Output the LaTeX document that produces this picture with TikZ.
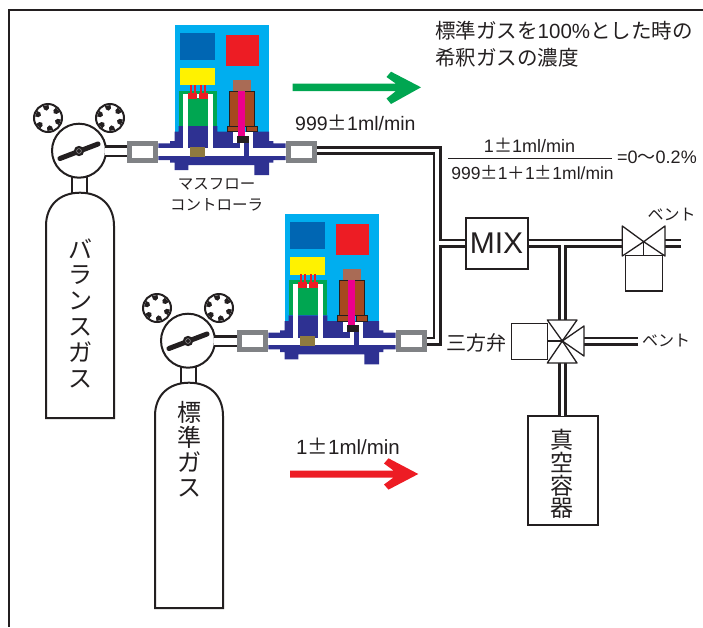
\documentclass[tikz,border=0pt]{standalone}
\usepackage{fontspec}
\setmainfont{Liberation Sans}
\newfontfamily\cjk{Noto Sans CJK JP}
\definecolor{ink}{HTML}{231F20}
\definecolor{skyb}{HTML}{00AEEF}
\definecolor{dblue}{HTML}{0066B3}
\definecolor{rd}{HTML}{ED1C24}
\definecolor{yel}{HTML}{FFF200}
\definecolor{grn}{HTML}{00A651}
\definecolor{navy}{HTML}{2E3192}
\definecolor{olive}{HTML}{8F7A3F}
\definecolor{brn}{HTML}{A6491F}
\definecolor{tanb}{HTML}{A96B55}
\definecolor{pnk}{HTML}{EC008C}
\definecolor{fitc}{HTML}{808285}
\newcommand{\fs}[1]{\fontsize{#1}{#1}\selectfont}
\newcommand{\pmj}{{\cjk ±}}
\tikzset{
  thinline/.style={draw=ink,line width=1.3pt},
  medline/.style={draw=ink,line width=2pt},
  pipeout/.style={draw=ink,line width=9pt,miter limit=10},
  pipein/.style={draw=white,line width=3.2pt,miter limit=10},
  fitting/.style={draw=fitc,line width=5pt,fill=white,minimum width=26pt,minimum height=17pt,inner sep=0pt,rectangle},
  txt/.style={text=ink,inner sep=0pt},
  vert/.style={text=ink,inner sep=0pt,align=center},
}
\newcommand{\mfcunit}[3]{%
\begin{scope}[shift={(#1,#2)}]
\fill[skyb] (174.7,25) rectangle (269,132);
\fill[dblue] (180,32.7) rectangle (215,60);
\fill[rd] (226,35) rectangle (259,65.7);
\fill[yel] (180,68) rectangle (215,85.3);
\fill[grn] (178.7,91) rectangle (217.3,126);
\fill[navy] (178.7,126) -- (217.3,126) -- (217.3,131.7) -- (269,131.7) -- (269,141) -- (273.3,141) -- (273.3,143.3) -- (285.7,143.3) -- (285.7,160) -- (273.3,160) -- (273.3,162.7) -- (269,162.7) -- (269,175) -- (254.3,175) -- (254.3,165) -- (188.3,165) -- (188.3,170) -- (174.7,170) -- (174.7,162.7) -- (170,162.7) -- (170,160) -- (158.3,160) -- (158.3,143.3) -- (170,143.3) -- (170,141) -- (174.7,141) -- (174.7,131.7) -- (178.7,131.7) -- cycle;
\fill[white] (158,148.3) rectangle (244.3,155.7);
\fill[white] (249.3,148.3) rectangle (285.7,155.7);
\fill[white] (183.3,94.3) rectangle (187.7,149);
\fill[white] (208.3,94.3) rectangle (212.7,149);
\fill[white] (183.3,94.3) rectangle (212.7,98.3);
\fill[white] (233.3,132.3) rectangle (253.3,135.7);
\fill[white] (233.3,132.3) rectangle (237.3,142.7);
\fill[white] (249.3,132.3) rectangle (253.3,149);
\fill[white] (240,142) rectangle (244.3,149);
\fill[olive] (190,147) rectangle (205,157);
\foreach \px in {190.3,194.3,200.3,204.3}{\fill[rd] (\px,85) rectangle (\px+1.7,93);}
\fill[rd] (188,92.7) rectangle (197.3,99);
\fill[rd] (199,92.7) rectangle (207.7,99);
\fill[tanb] (233,79.7) rectangle (251,91);
\filldraw[fill=brn,draw=ink,line width=.9pt] (229.3,91) rectangle (254.7,126);
\filldraw[fill=brn,draw=ink,line width=.9pt] (227.3,126) rectangle (238.3,131.7);
\filldraw[fill=brn,draw=ink,line width=.9pt] (246,126) rectangle (257.3,131.7);
\fill[pnk] (238,91) rectangle (245.3,135.7);
\fill[ink] (237.3,135.7) rectangle (249.3,142.7);
\node[fitting] (#3L) at (142.6,151.7) {};
\node[fitting] (#3R) at (301.3,151.7) {};
\end{scope}}
\newcommand{\gasunit}[3]{%
\begin{scope}[shift={(#1,#2)}]
\draw[medline,fill=white] (71.7,176) rectangle (87.3,194);
\path[medline,fill=white] (46,418) -- (46,226) .. controls (46,205) and (60,192.7) .. (80,192.7) .. controls (100,192.7) and (114,205) .. (114,226) -- (114,418) -- cycle;
\foreach \kx in {48,110}{
  \draw[medline,fill=white] (\kx,118) circle (14);
  \begin{scope}[shift={(\kx,118)}]
  \foreach \ka in {20,80,...,320}{
    \fill[ink] (\ka:7.5) -- (\ka+15:9.5) -- (\ka+13:13) -- (\ka-13:13) -- (\ka-15:9.5) -- cycle;
  }
  \end{scope}
}
\coordinate (#3P) at (105,151.3);
\draw[medline,fill=white] (79,150.7) circle (27);
\draw[draw=ink,line width=5pt,line cap=round] (60,158.5) -- (98,144);
\fill[ink] (79,151) circle (5.2);
\draw[draw=white,line width=.5pt,opacity=.6] (79,151) circle (2.4);
\end{scope}}
\newcommand{\pipes}[1]{%
  \draw[#1] (aR.east) -- (aR.east |- j1) -- (j1) -- (j3) -- (bR.east |- j3);
  \draw[#1] (j2) -- (mix.west);
  \draw[#1] (mix.east) -- (v1L);
  \draw[#1] (v1R) -- (v1E);
  \draw[#1] (br) -- (v2T);
  \draw[#1] (v2B) -- (vesT);
  \draw[#1] (v2R) -- (v2E);
}
\begin{document}
\begin{tikzpicture}[x=1pt,y=-1pt]
\useasboundingbox (0,0) rectangle (703,627);
\draw[draw=ink,line width=2.4pt] (703,10) -- (9,10) -- (9,627);
\fill[grn] (292.7,83.7) -- (396,83.7) -- (386.5,77) -- (391,71.7) -- (421,87.3) -- (391,104) -- (386.5,98.5) -- (396,91) -- (292.7,91) -- cycle;
\fill[rd] (290,470.5) -- (393.5,470.5) -- (384,463.5) -- (388.5,458.3) -- (418.3,474) -- (388.5,489.6) -- (384,484.5) -- (393.5,477.5) -- (290,477.5) -- cycle;
\mfcunit{0}{0}{a}
\mfcunit{110}{189.3}{b}
\gasunit{0}{0}{p}
\gasunit{109}{190}{q}
\coordinate (j1) at (437,150.6);
\coordinate (j2) at (437,243);
\coordinate (j3) at (437,341);
\node[draw=ink,line width=2pt,fill=white,minimum width=62pt,minimum height=51pt,inner sep=0pt,text=ink,font=\fs{30}] (mix) at (496.5,243) {MIX};
\coordinate (v1) at (643.7,241.7);
\coordinate (v1L) at (622.3,243);
\coordinate (v1R) at (665,243);
\coordinate (v1E) at (680.5,243);
\coordinate (v2) at (562.3,341);
\coordinate (v2T) at (562.5,321);
\coordinate (v2B) at (562.5,362);
\coordinate (v2R) at (584,341);
\coordinate (v2E) at (638,341);
\coordinate (br) at (562.5,243);
\node[draw=ink,line width=2pt,fill=white,minimum width=70pt,minimum height=109pt,inner sep=0pt] (vessel) at (562.5,470) {};
\coordinate (vesT) at (562.5,415.5);
\pipes{pipeout}
\pipes{pipein}
\draw[draw=ink,line width=12pt] (pP) -- (pP -| aL.west);
\draw[draw=white,line width=6.5pt] (pP) -- (pP -| aL.west);
\draw[draw=ink,line width=12pt] (qP) -- (qP -| bL.west);
\draw[draw=white,line width=6.5pt] (qP) -- (qP -| bL.west);
\node[fitting] at (aR) {};
\node[fitting] at (bR) {};
\node[fitting] at (aL) {};
\node[fitting] at (bL) {};
\draw[thinline,fill=white] (625.7,255.7) rectangle (662.3,291);
\draw[thinline,fill=white,line join=round] (622.3,226) -- (622.3,256) -- (v1) -- cycle;
\draw[thinline,fill=white,line join=round] (665,226) -- (665,256) -- (v1) -- cycle;
\draw[thinline] (v1) -- (643.7,255.7);
\draw[thinline,fill=white] (511.7,323.3) rectangle (547.7,359.3);
\draw[thinline,fill=white,line join=round] (547.3,320) -- (577,320) -- (v2) -- cycle;
\draw[thinline,fill=white,line join=round] (547.3,363) -- (577,363) -- (v2) -- cycle;
\draw[thinline,fill=white,line join=round] (584,326) -- (584,356) -- (v2) -- cycle;
\draw[thinline] (v2) -- (547.7,341);
\fill[ink] (v2) circle (1.6);
\node[vert,font=\cjk\fontsize{24}{25.8}\selectfont] (t1) at (80,313) {バ\\ラ\\ン\\ス\\ガ\\ス};
\node[vert,font=\cjk\fontsize{24}{25}\selectfont] (t2) at (189,449) {標\\準\\ガ\\ス};
\node[vert,font=\cjk\fontsize{23}{22.6}\selectfont] (t3) at (562,474) {真\\空\\容\\器};
\node[txt,font=\cjk\fontsize{15.5}{21}\selectfont,align=center] (t4) at (216.5,195) {マスフロー\\コントローラ};
\node[txt,anchor=west,font=\fs{20.5}] (t5) at (435,31) {{\cjk 標準ガスを}100\%{\cjk とした時の}};
\node[txt,anchor=west,font=\cjk\fs{20.5}] (t6) at (435,58) {希釈ガスの濃度};
\node[txt,anchor=west,font=\fs{19.5}] (t7) at (295,122.5) {999\pmj 1ml/min};
\node[txt,font=\fs{18}] (t8) at (529.5,145) {1\pmj 1ml/min};
\node[txt,font=\fs{17.5}] (t9) at (532.5,173) {999\pmj 1{\cjk ＋}1\pmj 1ml/min};
\draw[draw=ink,line width=.8pt] (448,158) -- (612,158);
\node[txt,anchor=west,font=\fs{18}] (t10) at (617,157) {=0{\cjk 〜}0.2\%};
\node[txt,anchor=west,font=\fs{20.5}] (t11) at (296,446) {1\pmj 1ml/min};
\node[txt,font=\cjk\fs{16}] (t12) at (671.5,215) {ベント};
\node[txt,font=\cjk\fs{16}] (t13) at (666,341) {ベント};
\node[txt,font=\cjk\fs{20}] (t14) at (476.5,343) {三方弁};
\end{tikzpicture}
\end{document}
